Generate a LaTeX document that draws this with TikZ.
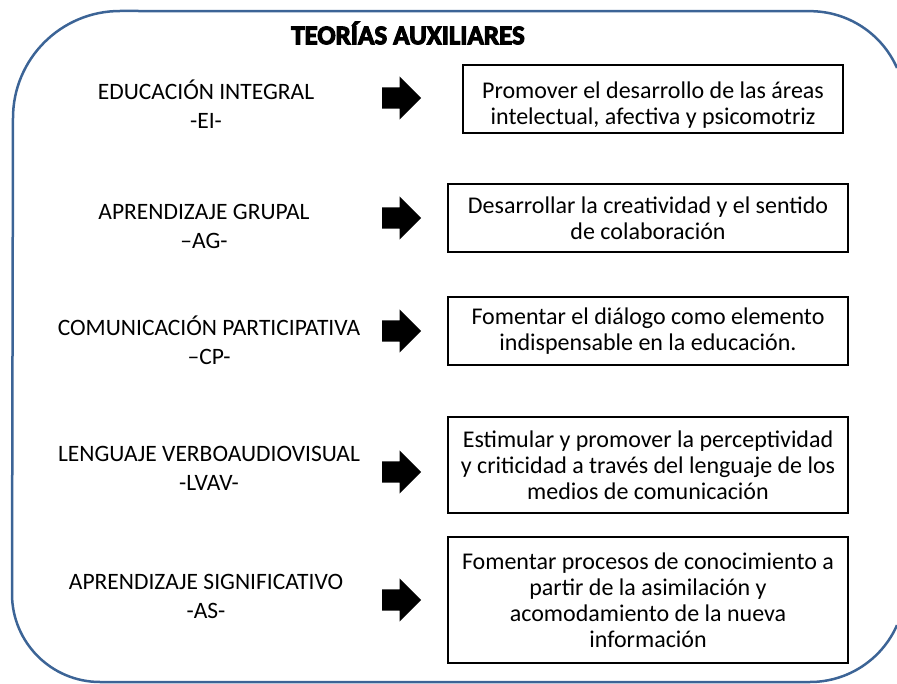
\documentclass[tikz,border=0pt]{standalone}
\usepackage{fontspec}
\setmainfont{Carlito}
\newfontfamily\titlefont[FakeBold=4]{Carlito}
\usetikzlibrary{shapes.arrows}
\definecolor{Frame}{HTML}{3C6496}

\begin{document}
\begin{tikzpicture}[x=1pt, y=-1pt,
    teoria/.style={align=center, font=\fontsize{23.5}{29}\selectfont, inner sep=0pt},
    meta/.style={draw, line width=1.8pt, align=center, font=\fontsize{24}{26}\selectfont, minimum width=400pt, minimum height=68pt, inner sep=0pt},
    flecha/.style={single arrow, fill=black, anchor=tail, minimum height=39pt, minimum width=43pt, single arrow head extend=11pt, single arrow head indent=0pt, inner xsep=0pt, inner ysep=10.5pt}]
    \useasboundingbox (0,0) rectangle (897,684);
    % marco (abierto a la derecha)
    \draw[Frame, line width=2.5pt] (897,68) arc[start angle=-23.7, end angle=-90, radius=95]
      -- (120,11) arc[start angle=-90, end angle=-180, radius=107]
      -- (12,594) arc[start angle=180, end angle=90, radius=88]
      -- (810,682) arc[start angle=90, end angle=23.7, radius=95];
    \node[font=\titlefont\bfseries\fontsize{27}{30}\selectfont] (titulo) at (408,33) {TEORÍAS AUXILIARES};
    % teorias
    \node[teoria] (tEI) at (206,104) {EDUCACIÓN INTEGRAL\\-EI-};
    \node[teoria] (tAG) at (204,226) {APRENDIZAJE GRUPAL\\–AG-};
    \node[teoria] (tCP) at (209,340) {COMUNICACIÓN PARTICIPATIVA\\–CP-};
    \node[teoria] (tLV) at (209,468) {LENGUAJE VERBOAUDIOVISUAL\\-LVAV-};
    \node[teoria] (tAS) at (206,596) {APRENDIZAJE SIGNIFICATIVO\\-AS-};
    % flechas
    \node[flecha] (fEI) at (382,98) {};
    \node[flecha] (fAG) at (382,218) {};
    \node[flecha] (fCP) at (382,331) {};
    \node[flecha] (fLV) at (382,472) {};
    \node[flecha] (fAS) at (382,600) {};
    % objetivos
    \node[meta, minimum width=380pt] (bEI) at (653,99) {\rule{0pt}{29pt}Promover el desarrollo de las áreas\\intelectual, afectiva y psicomotriz};
    \node[meta] (bAG) at (648,218) {Desarrollar la creatividad y el sentido\\de colaboración};
    \node[meta] (bCP) at (648,331) {Fomentar el diálogo como elemento\\indispensable en la educación.};
    \node[meta, minimum height=96pt] (bLV) at (648,465) {Estimular y promover la perceptividad\\y criticidad a través del lenguaje de los\\medios de comunicación};
    \node[meta, minimum height=126pt] (bAS) at (648,600) {Fomentar procesos de conocimiento a\\partir de la asimilación y\\acomodamiento de la nueva\\información};
  \end{tikzpicture}
\end{document}
